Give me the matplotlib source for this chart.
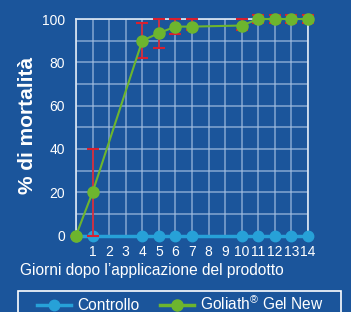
import numpy as np
import matplotlib
matplotlib.use('Agg')
import matplotlib.pyplot as plt
from matplotlib.patches import Rectangle

#---------------------- DATA
days      = [0, 1, 4, 5, 6, 7, 10, 11, 12, 13, 14]
controllo = [0, 0, 0, 0, 0, 0, 0, 0, 0, 0, 0]
goliath   = [0, 20, 90, 93.5, 96.5, 96.5, 97, 100, 100, 100, 100]
err_lo    = [0, 20, 8, 7, 3.5, 1.5, 2, 2, 2, 2, 2]
err_hi    = [0, 20, 8, 6.5, 3.5, 3.5, 3, 2, 2, 2, 2]
xticks    = list(range(1, 15))
yticks    = [0, 20, 40, 60, 80, 100]
labels    = ['Controllo', 'Goliath$^{\u00ae}$ Gel New']

bg     = '#1b559b'
c_blue = '#27a1d8'
c_grn  = '#6db52e'
c_red  = '#d8202f'

plt.rcParams['font.family'] = ['Liberation Sans', 'DejaVu Sans']
plt.rcParams['mathtext.fontset'] = 'custom'
plt.rcParams['mathtext.rm'] = 'Liberation Sans'
plt.rcParams['mathtext.default'] = 'rm'

fig = plt.figure(figsize=(3.51, 3.12), dpi=100)
fig.patch.set_facecolor(bg)
ax = fig.add_axes([0.2165, 0.245, 0.661, 0.694])
ax.set_facecolor(bg)

##------ grid
for x in range(0, 15):
    ax.axvline(x, color='#a5c0e2', lw=1.2, alpha=0.7, zorder=0)
for y in range(10, 101, 10):
    ax.axhline(y, color='#a5c0e2', lw=1.2, alpha=0.7, zorder=0)

##------ series
ax.plot(days, controllo, color=c_blue, lw=2.5, marker='o', ms=7.5,
        mec=c_blue, zorder=3, clip_on=False)
ax.errorbar(days, goliath, yerr=[err_lo, err_hi], fmt='none', ecolor=c_red,
            elinewidth=1.2, capsize=4, capthick=1.5, zorder=4, clip_on=False)
ax.plot(days, goliath, color=c_grn, lw=1.5, marker='o', ms=8,
        mec=c_grn, zorder=5, clip_on=False)

ax.set_xlim(0, 14)
ax.set_ylim(0, 100)
ax.set_xticks(xticks)
ax.set_yticks(yticks)
ax.tick_params(length=0, colors='white', labelsize=10)
ax.tick_params(axis='x', pad=7)
ax.tick_params(axis='y', pad=8)

for s in ax.spines.values():
    s.set_color('#dfe9f5'); s.set_linewidth(1.2)
ax.spines['bottom'].set_visible(False)

ax.set_ylabel('% di mortalità', color='white', fontsize=15, fontweight='bold')
ax.yaxis.set_label_coords(-0.168, 0.51)
fig.text(20/351, 1-271/312, 'Giorni dopo l\u2019applicazione del prodotto',
         color='white', fontsize=11.2, va='center', ha='left')

##------ legend box
fig.patches.append(Rectangle((18/351, -0.05), 323/351, 0.05+1-291/312, transform=fig.transFigure,
                             fill=False, edgecolor='white', lw=1.2))
h1, = ax.plot([], [], color=c_blue, lw=2.5, marker='o', ms=7.5)
h2, = ax.plot([], [], color=c_grn, lw=2.5, marker='o', ms=8)
fig.legend([h1, h2], labels, loc='center left', bbox_to_anchor=(37/351, 1-304/312),
           ncol=2, frameon=False, fontsize=11.2, labelcolor='white', handlelength=2.2,
           handletextpad=0.4, columnspacing=1.3, borderpad=0, borderaxespad=0)

fig.savefig('out.png', dpi=100, facecolor=bg)
